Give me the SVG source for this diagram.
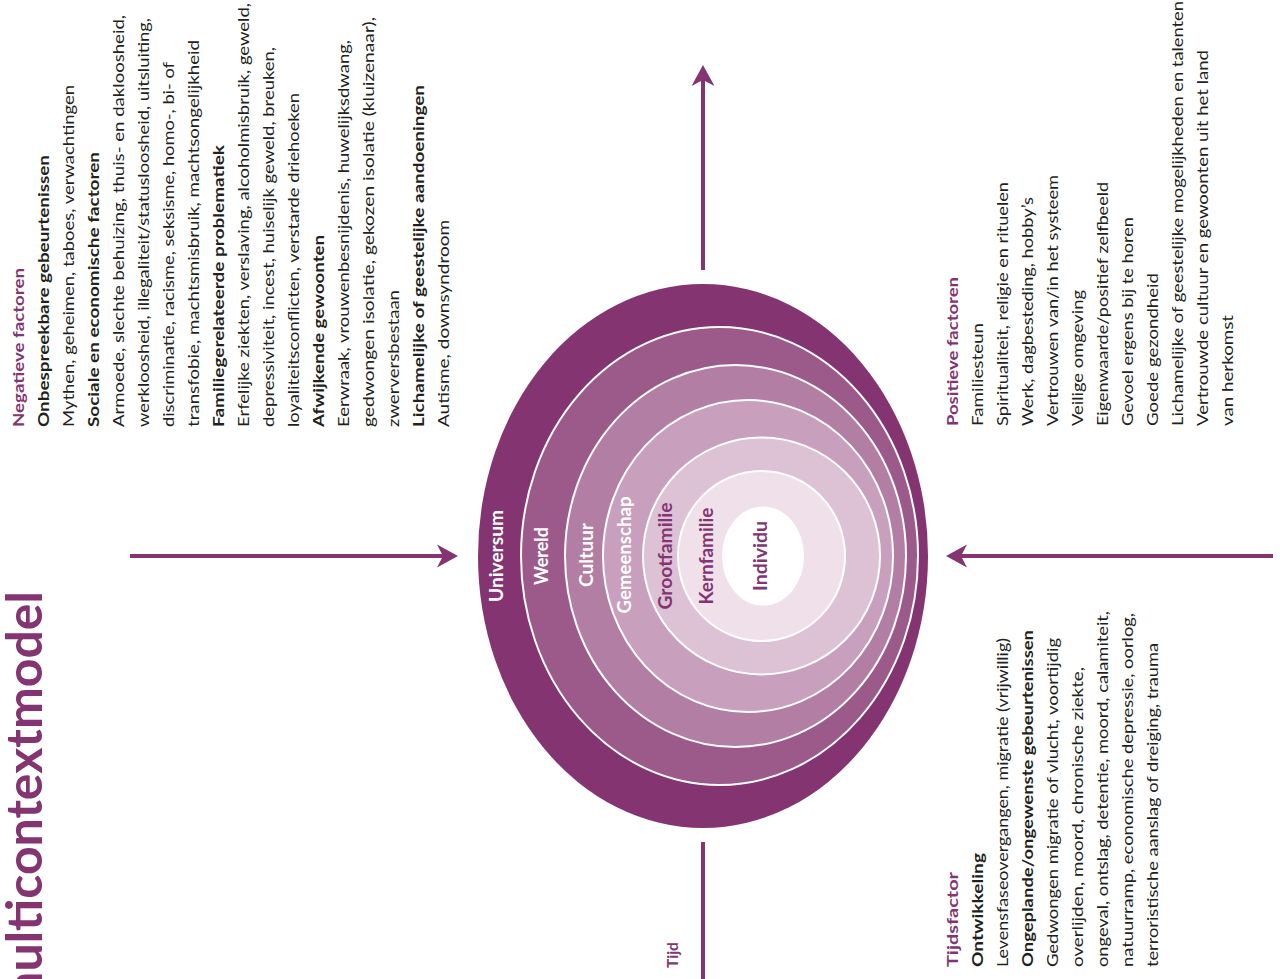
<svg xmlns="http://www.w3.org/2000/svg" width="1280" height="979" viewBox="0 0 1280 979">
<defs>
<style>
text{font-family:Lato,"Open Sans","Liberation Sans",sans-serif;}
.t{font-size:15.5px;fill:#231f20;}
.b{font-weight:700;}
.p{fill:#833471;}
.ring{stroke:#ffffff;stroke-width:2;}
.lab{font-size:18px;font-weight:700;}
.w{fill:#ffffff;}
.arr{stroke:#833471;stroke-width:4;fill:none;}
</style>
<marker id="ah" markerUnits="userSpaceOnUse" markerWidth="22" markerHeight="24" viewBox="0 0 22 24" refX="6" refY="12" orient="auto">
<path d="M0,0.5 L21,12 L0,23.5 L6,12 Z" fill="#833471"/>
</marker>
</defs>
<rect width="1280" height="979" fill="#ffffff"/>

<g id="title">
<text class="b p" style="font-size:50px" text-anchor="end" transform="translate(42,591) rotate(-90)">multicontextmodel</text>
</g>

<g id="connectors">
<line class="arr" x1="130" y1="556" x2="443" y2="556" marker-end="url(#ah)"/>
<line class="arr" x1="1273" y1="556" x2="961" y2="556" marker-end="url(#ah)"/>
<line class="arr" x1="703" y1="270" x2="703" y2="80" marker-end="url(#ah)"/>
<line class="arr" x1="703" y1="842" x2="703" y2="979"/>
</g>

<g id="tijd">
<text class="t b p" transform="translate(678,968) rotate(-90)">Tijd</text>
</g>

<g id="universum">
<ellipse cx="703" cy="556" rx="225" ry="272" fill="#833471"/>
<text class="lab w" text-anchor="middle" transform="translate(503,556) rotate(-90)" textLength="92" lengthAdjust="spacingAndGlyphs">Universum</text>
</g>
<g id="wereld">
<ellipse class="ring" cx="719.5" cy="556" rx="198.5" ry="229" fill="#9c5a8b"/>
<text class="lab w" text-anchor="middle" transform="translate(548,556) rotate(-90)" textLength="58" lengthAdjust="spacingAndGlyphs">Wereld</text>
</g>
<g id="cultuur">
<ellipse class="ring" cx="735.5" cy="556" rx="170.5" ry="191" fill="#b27ea4"/>
<text class="lab w" text-anchor="middle" transform="translate(593,555) rotate(-90)" textLength="64" lengthAdjust="spacingAndGlyphs">Cultuur</text>
</g>
<g id="gemeenschap">
<ellipse class="ring" cx="748" cy="556" rx="145" ry="156" fill="#c8a0bd"/>
<text class="lab w" text-anchor="middle" transform="translate(631,555) rotate(-90)" textLength="117" lengthAdjust="spacingAndGlyphs">Gemeenschap</text>
</g>
<g id="grootfamilie">
<ellipse class="ring" cx="761.5" cy="556" rx="118.5" ry="118.5" fill="#dcc2d4"/>
<text class="lab p" text-anchor="middle" transform="translate(672,556) rotate(-90)" textLength="107" lengthAdjust="spacingAndGlyphs">Grootfamilie</text>
</g>
<g id="kernfamilie">
<ellipse class="ring" cx="761.5" cy="556" rx="83.5" ry="85" fill="#efe0ea"/>
<text class="lab p" text-anchor="middle" transform="translate(713,556) rotate(-90)" textLength="97" lengthAdjust="spacingAndGlyphs">Kernfamilie</text>
</g>
<g id="individu">
<ellipse class="ring" cx="763" cy="556" rx="40" ry="48.5" fill="#ffffff"/>
<text class="lab p" text-anchor="middle" transform="translate(767,556) rotate(-90)" textLength="70" lengthAdjust="spacingAndGlyphs">Individu</text>
</g>

<g id="negatieve-factoren">
<text class="t b p" transform="translate(24,427) rotate(-90)" textLength="159" lengthAdjust="spacingAndGlyphs">Negatieve factoren</text>
<text class="t b" transform="translate(49,427) rotate(-90)" textLength="272" lengthAdjust="spacingAndGlyphs">Onbespreekbare gebeurtenissen</text>
<text class="t" transform="translate(74,427) rotate(-90)" textLength="342" lengthAdjust="spacingAndGlyphs">Mythen, geheimen, taboes, verwachtingen</text>
<text class="t b" transform="translate(99,427) rotate(-90)" textLength="275" lengthAdjust="spacingAndGlyphs">Sociale en economische factoren</text>
<text class="t" transform="translate(124,427) rotate(-90)" textLength="412" lengthAdjust="spacingAndGlyphs">Armoede, slechte behuizing, thuis- en dakloosheid,</text>
<text class="t" transform="translate(149,427) rotate(-90)" textLength="409" lengthAdjust="spacingAndGlyphs">werkloosheid, illegaliteit/statusloosheid, uitsluiting,</text>
<text class="t" transform="translate(174,427) rotate(-90)" textLength="365" lengthAdjust="spacingAndGlyphs">discriminatie, racisme, seksisme, homo-, bi- of</text>
<text class="t" transform="translate(199,427) rotate(-90)" textLength="387" lengthAdjust="spacingAndGlyphs">transfobie, machtsmisbruik, machtsongelijkheid</text>
<text class="t b" transform="translate(224,427) rotate(-90)" textLength="282" lengthAdjust="spacingAndGlyphs">Familiegerelateerde problematiek</text>
<text class="t" transform="translate(249,427) rotate(-90)" textLength="424" lengthAdjust="spacingAndGlyphs">Erfelijke ziekten, verslaving, alcoholmisbruik, geweld,</text>
<text class="t" transform="translate(274,427) rotate(-90)" textLength="380" lengthAdjust="spacingAndGlyphs">depressiviteit, incest, huiselijk geweld, breuken,</text>
<text class="t" transform="translate(299,427) rotate(-90)" textLength="334" lengthAdjust="spacingAndGlyphs">loyaliteitsconflicten, verstarde driehoeken</text>
<text class="t b" transform="translate(324,427) rotate(-90)" textLength="192" lengthAdjust="spacingAndGlyphs">Afwijkende gewoonten</text>
<text class="t" transform="translate(349,427) rotate(-90)" textLength="387" lengthAdjust="spacingAndGlyphs">Eerwraak, vrouwenbesnijdenis, huwelijksdwang,</text>
<text class="t" transform="translate(374,427) rotate(-90)" textLength="410" lengthAdjust="spacingAndGlyphs">gedwongen isolatie, gekozen isolatie (kluizenaar),</text>
<text class="t" transform="translate(399,427) rotate(-90)" textLength="137" lengthAdjust="spacingAndGlyphs">zwerversbestaan</text>
<text class="t b" transform="translate(424,427) rotate(-90)" textLength="342" lengthAdjust="spacingAndGlyphs">Lichamelijke of geestelijke aandoeningen</text>
<text class="t" transform="translate(449,427) rotate(-90)" textLength="207" lengthAdjust="spacingAndGlyphs">Autisme, downsyndroom</text>
</g>

<g id="positieve-factoren">
<text class="t b p" transform="translate(958,426) rotate(-90)" textLength="149" lengthAdjust="spacingAndGlyphs">Positieve factoren</text>
<text class="t" transform="translate(983,426) rotate(-90)" textLength="103" lengthAdjust="spacingAndGlyphs">Familiesteun</text>
<text class="t" transform="translate(1008,426) rotate(-90)" textLength="244" lengthAdjust="spacingAndGlyphs">Spiritualiteit, religie en rituelen</text>
<text class="t" transform="translate(1033,426) rotate(-90)" textLength="229" lengthAdjust="spacingAndGlyphs">Werk, dagbesteding, hobby’s</text>
<text class="t" transform="translate(1058,426) rotate(-90)" textLength="251" lengthAdjust="spacingAndGlyphs">Vertrouwen van/in het systeem</text>
<text class="t" transform="translate(1083,426) rotate(-90)" textLength="136" lengthAdjust="spacingAndGlyphs">Veilige omgeving</text>
<text class="t" transform="translate(1108,426) rotate(-90)" textLength="244" lengthAdjust="spacingAndGlyphs">Eigenwaarde/positief zelfbeeld</text>
<text class="t" transform="translate(1133,426) rotate(-90)" textLength="209" lengthAdjust="spacingAndGlyphs">Gevoel ergens bij te horen</text>
<text class="t" transform="translate(1158,426) rotate(-90)" textLength="153" lengthAdjust="spacingAndGlyphs">Goede gezondheid</text>
<text class="t" transform="translate(1183,426) rotate(-90)" textLength="425" lengthAdjust="spacingAndGlyphs">Lichamelijke of geestelijke mogelijkheden en talenten</text>
<text class="t" transform="translate(1208,426) rotate(-90)" textLength="376" lengthAdjust="spacingAndGlyphs">Vertrouwde cultuur en gewoonten uit het land</text>
<text class="t" transform="translate(1233,426) rotate(-90)" textLength="111" lengthAdjust="spacingAndGlyphs">van herkomst</text>
</g>

<g id="tijdsfactor">
<text class="t b p" transform="translate(958,967) rotate(-90)" textLength="95" lengthAdjust="spacingAndGlyphs">Tijdsfactor</text>
<text class="t b" transform="translate(983,967) rotate(-90)" textLength="114" lengthAdjust="spacingAndGlyphs">Ontwikkeling</text>
<text class="t" transform="translate(1008,967) rotate(-90)" textLength="329" lengthAdjust="spacingAndGlyphs">Levensfaseovergangen, migratie (vrijwillig)</text>
<text class="t b" transform="translate(1033,967) rotate(-90)" textLength="337" lengthAdjust="spacingAndGlyphs">Ongeplande/ongewenste gebeurtenissen</text>
<text class="t" transform="translate(1058,967) rotate(-90)" textLength="329" lengthAdjust="spacingAndGlyphs">Gedwongen migratie of vlucht, voortijdig</text>
<text class="t" transform="translate(1083,967) rotate(-90)" textLength="300" lengthAdjust="spacingAndGlyphs">overlijden, moord, chronische ziekte,</text>
<text class="t" transform="translate(1108,967) rotate(-90)" textLength="356" lengthAdjust="spacingAndGlyphs">ongeval, ontslag, detentie, moord, calamiteit,</text>
<text class="t" transform="translate(1133,967) rotate(-90)" textLength="354" lengthAdjust="spacingAndGlyphs">natuurramp, economische depressie, oorlog,</text>
<text class="t" transform="translate(1158,967) rotate(-90)" textLength="324" lengthAdjust="spacingAndGlyphs">terroristische aanslag of dreiging, trauma</text>
</g>
</svg>
